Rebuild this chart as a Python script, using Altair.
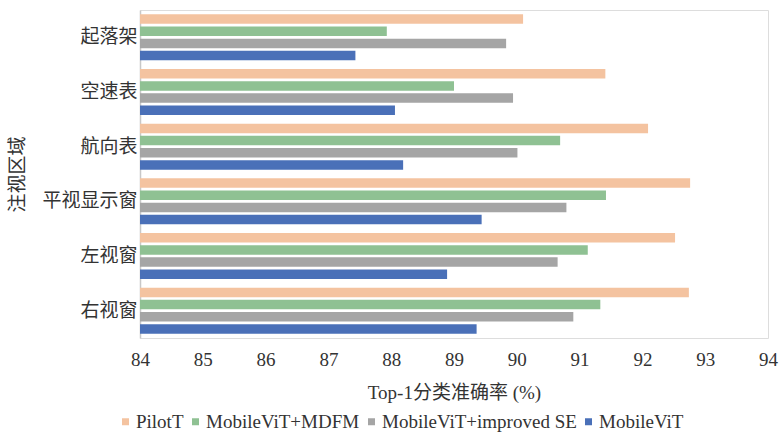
import altair as alt
import pandas as pd

# Gaze regions, top to bottom
regions = ["起落架", "空速表", "航向表", "平视显示窗", "左视窗", "右视窗"]
models = ["PilotT", "MobileViT+MDFM", "MobileViT+improved SE", "MobileViT"]
colors = ["#F4C3A0", "#8FC193", "#A5A5A5", "#4A70B8"]

# Top-1 accuracy (%) per model, ordered as in `regions`
pilott = [90.10, 91.41, 92.09, 92.76, 92.52, 92.74]
mdfm = [87.93, 89.00, 90.69, 91.42, 91.13, 91.33]
improved_se = [89.83, 89.94, 90.01, 90.79, 90.65, 90.90]
mobilevit = [87.43, 88.06, 88.19, 89.44, 88.89, 89.36]

rows = []
for name, vals in zip(models, [pilott, mdfm, improved_se, mobilevit]):
    for r, v in zip(regions, vals):
        rows.append({"region": r, "model": name, "acc": v})
df = pd.DataFrame(rows)

serif = "'Liberation Serif', 'Noto Sans CJK SC', serif"

chart = alt.Chart(df).mark_bar().encode(
    y=alt.Y(
        "region:N",
        sort=regions,
        scale=alt.Scale(paddingInner=0.16, paddingOuter=0.08),
        axis=alt.Axis(
            title="注视区域",
            titleFont=serif,
            titleFontSize=19,
            titleFontWeight="normal",
            titleColor="#333333",
            titleX=-123,
            titleY=164,
            titleAngle=270,
            titleAlign="center",
            titleBaseline="middle",
            labelFont=serif,
            labelFontSize=19,
            labelColor="#333333",
            labelPadding=3,
            ticks=False,
            domainColor="#C8C8C8",
            domainWidth=1.5,
        ),
    ),
    yOffset=alt.YOffset(
        "model:N",
        sort=models,
        scale=alt.Scale(paddingInner=0.22, paddingOuter=0),
    ),
    x=alt.X(
        "acc:Q",
        scale=alt.Scale(domain=[84, 94], zero=False, clamp=True),
        axis=alt.Axis(
            title="Top-1分类准确率 (%)",
            titleFont=serif,
            titleFontSize=19,
            titleFontWeight="normal",
            titleColor="#333333",
            titlePadding=14,
            values=list(range(84, 95)),
            format="d",
            labelFont=serif,
            labelFontSize=19,
            labelColor="#333333",
            labelPadding=12,
            labelFlush=False,
            labelOverlap=False,
            ticks=False,
            domain=False,
            grid=False,
        ),
    ),
    color=alt.Color(
        "model:N",
        sort=models,
        scale=alt.Scale(domain=models, range=colors),
        legend=alt.Legend(
            title=None,
            orient="none",
            direction="horizontal",
            columns=4,
            legendX=-24,
            legendY=402,
            symbolType="square",
            symbolSize=49,
            symbolStrokeWidth=0,
            labelFont=serif,
            labelFontSize=19,
            labelColor="#333333",
            labelLimit=400,
            columnPadding=2,
            labelOffset=1,
        ),
    ),
).properties(
    width=628,
    height=328,
    autosize=alt.AutoSizeParams(type="none"),
    padding={"left": 140, "top": 10, "right": 12, "bottom": 96},
).configure_view(stroke=None).configure(background="white")

chart.save("out.html", embed_options={"renderer": "svg", "actions": False})
